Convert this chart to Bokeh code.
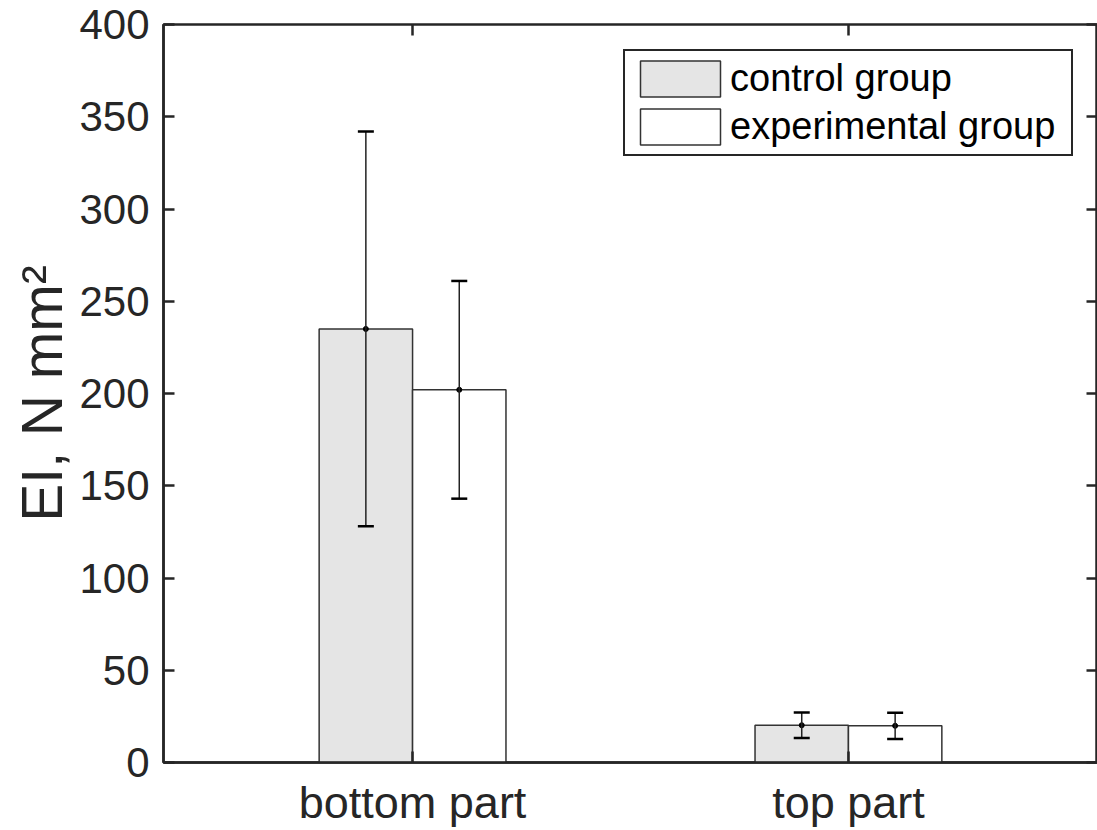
from bokeh.plotting import figure
from bokeh.models import (Range1d, FixedTicker, LinearAxis, Whisker, ColumnDataSource,
                          TeeHead, Legend, LegendItem)
from bokeh.transform import dodge
from bokeh.embed import file_html
from bokeh.resources import INLINE

# ---------------- data ----------------
categories = ["bottom part", "top part"]
series_names = ["control group", "experimental group"]
control_mean = [235.0, 20.2]
control_err = [107.0, 6.9]
experimental_mean = [202.0, 19.9]
experimental_err = [59.0, 7.1]
y_ticks = [0, 50, 100, 150, 200, 250, 300, 350, 400]
y_label = "EI, N mm\u00b2"

# ---------------- styling ----------------
FONT = "Liberation Sans"
AX = "#262626"
BAR_W = 0.2143
OFF = BAR_W / 2

x_pos = list(range(1, len(categories) + 1))


def make_src(means, errs):
    return ColumnDataSource(dict(
        x=x_pos, top=means,
        upper=[m + e for m, e in zip(means, errs)],
        lower=[m - e for m, e in zip(means, errs)],
    ))


src_c = make_src(control_mean, control_err)
src_e = make_src(experimental_mean, experimental_err)

p = figure(width=1097, height=830, output_backend="svg", toolbar_location=None,
           x_range=Range1d(0.4286, 2.5714), y_range=Range1d(0, 400),
           min_border_left=163, min_border_right=0, min_border_top=24, min_border_bottom=5)
p.background_fill_color = "white"
p.border_fill_color = "white"
p.xgrid.visible = False
p.ygrid.visible = False
p.outline_line_color = AX
p.outline_line_width = 2.5
p.outline_line_alpha = 1

r_c = p.vbar(x=dodge("x", -OFF, range=p.x_range), top="top", width=BAR_W, source=src_c,
             fill_color="#e5e5e5", line_color="#333333", line_width=1.5)
r_e = p.vbar(x=dodge("x", OFF, range=p.x_range), top="top", width=BAR_W, source=src_e,
             fill_color="white", line_color="#333333", line_width=1.5)

for src, off in ((src_c, -OFF), (src_e, OFF)):
    w = Whisker(source=src, base=dodge("x", off, range=p.x_range), upper="upper", lower="lower",
                line_color="#222222", line_width=1.5, level="overlay",
                upper_head=TeeHead(size=16, line_width=2.5, line_color="black"),
                lower_head=TeeHead(size=16, line_width=2.5, line_color="black"))
    p.add_layout(w)
    p.scatter(x=dodge("x", off, range=p.x_range), y="top", source=src, size=5,
              color="black", level="overlay")

# bottom / left axes
xa = p.xaxis[0]
xa.ticker = FixedTicker(ticks=x_pos)
xa.major_label_overrides = {i: c for i, c in zip(x_pos, categories)}
ya = p.yaxis[0]
ya.ticker = FixedTicker(ticks=y_ticks)
ya.axis_label = y_label

for ax in (xa, ya):
    ax.axis_line_color = AX
    ax.axis_line_width = 2.5
    ax.major_tick_in = 11
    ax.major_tick_out = 0
    ax.major_tick_line_color = AX
    ax.major_tick_line_width = 2.5
    ax.minor_tick_line_color = None
    ax.major_label_text_font = FONT
    ax.major_label_text_color = AX

ya.major_label_text_font_size = "42px"
xa.major_label_text_font_size = "45px"
xa.major_label_standoff = 14
ya.major_label_standoff = 14
ya.axis_label_text_font = FONT
ya.axis_label_text_font_size = "57px"
ya.axis_label_text_font_style = "normal"
ya.axis_label_text_color = AX
ya.axis_label_standoff = 2

# mirrored axes (box on): ticks only
for loc, ticks in (("above", x_pos), ("right", y_ticks)):
    a = LinearAxis(ticker=FixedTicker(ticks=ticks))
    a.axis_line_color = None
    a.major_tick_in = 11
    a.major_tick_out = 0
    a.major_tick_line_color = AX
    a.major_tick_line_width = 2.5
    a.minor_tick_line_color = None
    a.major_label_overrides = {t: "" for t in ticks}
    a.major_label_text_font_size = "1px"
    a.major_label_standoff = -6
    p.add_layout(a, loc)

legend = Legend(items=[LegendItem(label=series_names[0], renderers=[r_c]),
                       LegendItem(label=series_names[1], renderers=[r_e])],
                location=(460, 606), orientation="vertical",
                border_line_color=AX, border_line_width=2.5, border_line_alpha=1,
                background_fill_color="white", background_fill_alpha=1,
                padding=5, spacing=3, margin=0,
                glyph_width=100, glyph_height=45, label_height=45, label_width=336,
                label_standoff=0,
                label_text_font=FONT, label_text_font_size="38px", label_text_color="black")
p.add_layout(legend)

open("out.html", "w").write(file_html(p, INLINE))
